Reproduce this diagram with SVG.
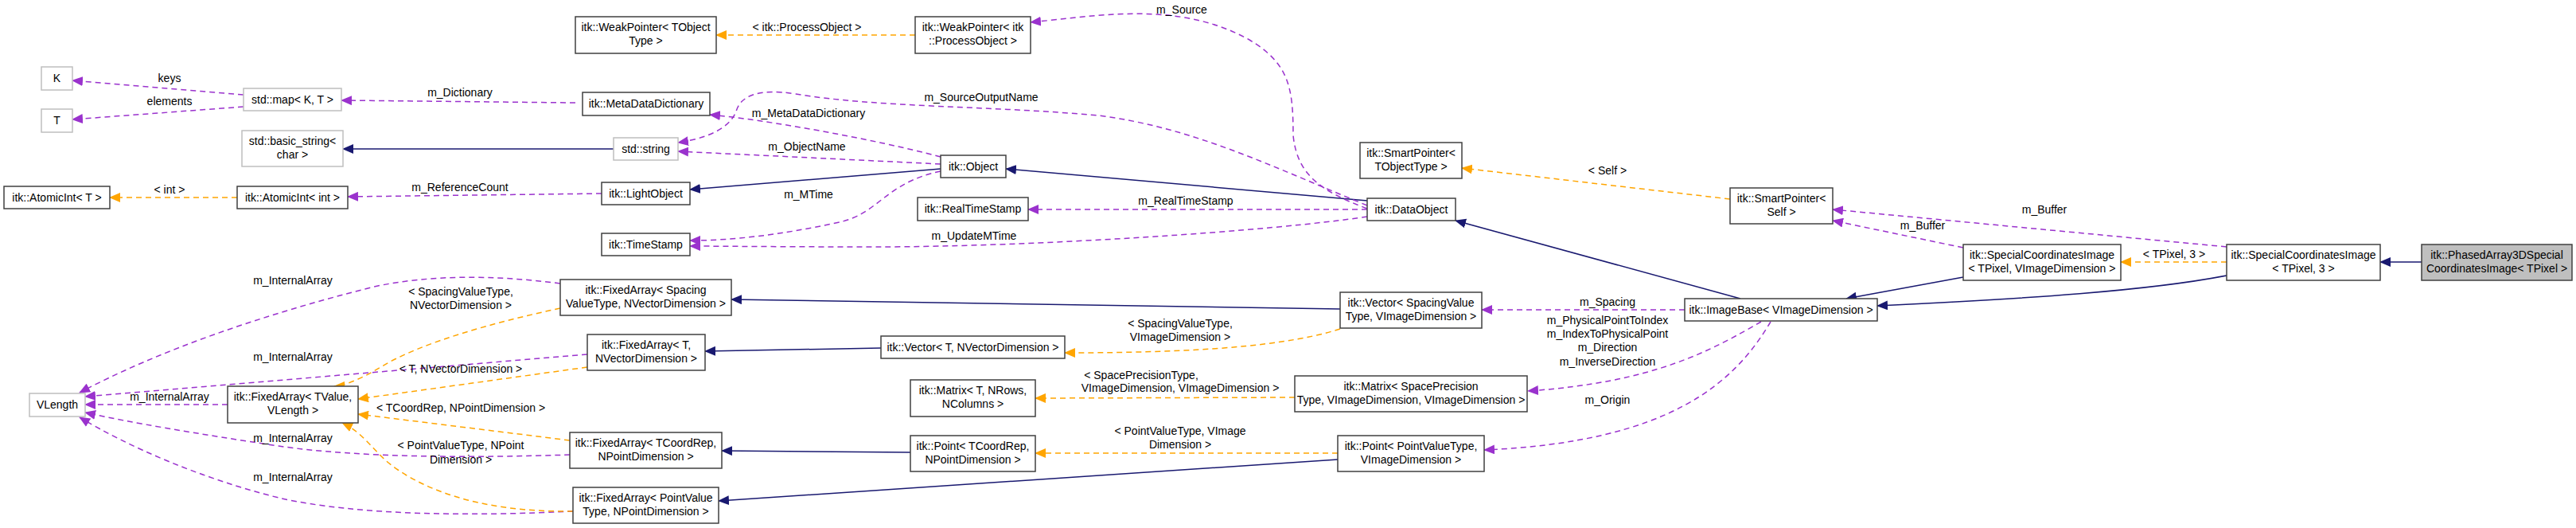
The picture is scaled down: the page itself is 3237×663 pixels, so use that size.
<svg xmlns="http://www.w3.org/2000/svg" width="3237" height="663" viewBox="0 0 3237 663">
<style>
text{font-family:"Liberation Sans Narrow","Liberation Sans",Arial,sans-serif;font-size:14px;fill:#000;text-anchor:middle}
.n rect{fill:#fff;stroke:#404040;stroke-width:1.5}
.g rect{fill:#fff;stroke:#bfbfbf;stroke-width:1.5}
.e{fill:none;stroke-width:1.5}
.s{stroke:#191970}
.p{stroke:#9a32cd;stroke-dasharray:7,5}
.o{stroke:#ffa500;stroke-dasharray:7,5}
</style>
<defs>
<marker id="as" markerWidth="14" markerHeight="12" refX="13" refY="6" orient="auto" markerUnits="userSpaceOnUse"><path d="M0,0L14,6L0,12z" fill="#191970"/></marker>
<marker id="ap" markerWidth="14" markerHeight="12" refX="13" refY="6" orient="auto" markerUnits="userSpaceOnUse"><path d="M0,0L14,6L0,12z" fill="#9a32cd"/></marker>
<marker id="ao" markerWidth="14" markerHeight="12" refX="13" refY="6" orient="auto" markerUnits="userSpaceOnUse"><path d="M0,0L14,6L0,12z" fill="#ffa500"/></marker>
</defs>
<rect width="3237" height="663" fill="#fff"/>
<g id="connectors">
<path class="e p" marker-end="url(#ap)" d="M306,119L91,101"/>
<path class="e p" marker-end="url(#ap)" d="M306,134L91,150"/>
<path class="e p" marker-end="url(#ap)" d="M723,129L429,126"/>
<path class="e s" marker-end="url(#as)" d="M771,187L431,187"/>
<path class="e o" marker-end="url(#ao)" d="M298,248L138,248"/>
<path class="e p" marker-end="url(#ap)" d="M756,243L437,247"/>
<path class="e o" marker-end="url(#ao)" d="M1150,44L900,44"/>
<path class="e p" marker-end="url(#ap)" d="M1182,197C1100,175 960,150 892,144"/>
<path class="e p" marker-end="url(#ap)" d="M1182,206L852,190"/>
<path class="e s" marker-end="url(#as)" d="M1182,212L867,238"/>
<path class="e p" marker-end="url(#ap)" d="M1182,215C1110,230 1105,270 1050,280C980,295 920,302 867,302"/>
<path class="e s" marker-end="url(#as)" d="M1718,252L1264,212"/>
<path class="e p" marker-end="url(#ap)" d="M1718,262C1660,240 1630,220 1625,170C1625,110 1620,80 1570,50C1480,0 1380,20 1295,28"/>
<path class="e p" marker-end="url(#ap)" d="M1718,258C1600,210 1500,160 1380,145C1250,133 1100,135 1000,118C950,110 930,122 925,140C915,165 880,175 852,179"/>
<path class="e p" marker-end="url(#ap)" d="M1718,263L1292,263"/>
<path class="e p" marker-end="url(#ap)" d="M1718,272C1600,290 1300,310 1100,310C980,310 900,309 867,309"/>
<path class="e o" marker-end="url(#ao)" d="M2174,250L1837,211"/>
<path class="e p" marker-end="url(#ap)" d="M2798,310L2303,263"/>
<path class="e p" marker-end="url(#ap)" d="M2467,311L2303,277"/>
<path class="e o" marker-end="url(#ao)" d="M2798,329L2665,329"/>
<path class="e s" marker-end="url(#as)" d="M3043,329L2991,329"/>
<path class="e s" marker-end="url(#as)" d="M2467,348L2320,375"/>
<path class="e s" marker-end="url(#as)" d="M2798,346C2700,365 2550,375 2359,384"/>
<path class="e s" marker-end="url(#as)" d="M2187,375L1829,277"/>
<path class="e p" marker-end="url(#ap)" d="M2117,389L1862,389"/>
<path class="e p" marker-end="url(#ap)" d="M2213,404C2150,440 2080,480 1920,491"/>
<path class="e p" marker-end="url(#ap)" d="M2225,404C2180,480 2100,555 1865,565"/>
<path class="e s" marker-end="url(#as)" d="M1684,388L919,376"/>
<path class="e o" marker-end="url(#ao)" d="M1684,413C1600,440 1450,443 1338,443"/>
<path class="e s" marker-end="url(#as)" d="M1107,437L886,441"/>
<path class="e o" marker-end="url(#ao)" d="M1627,499L1301,500"/>
<path class="e o" marker-end="url(#ao)" d="M1681,569L1301,569"/>
<path class="e s" marker-end="url(#as)" d="M1144,568L907,566"/>
<path class="e s" marker-end="url(#as)" d="M1681,577L903,629"/>
<path class="e p" marker-end="url(#ap)" d="M704,356C620,345 540,345 470,360C330,395 200,440 100,493"/>
<path class="e p" marker-end="url(#ap)" d="M738,445L107,498"/>
<path class="e p" marker-end="url(#ap)" d="M286,508L107,508"/>
<path class="e p" marker-end="url(#ap)" d="M716,571C600,575 450,575 350,560C250,545 160,530 107,518"/>
<path class="e p" marker-end="url(#ap)" d="M720,642C600,648 450,648 350,625C250,600 160,560 100,524"/>
<path class="e o" marker-end="url(#ao)" d="M704,387C620,405 530,430 480,460C450,478 430,485 420,485"/>
<path class="e o" marker-end="url(#ao)" d="M738,461L450,501"/>
<path class="e o" marker-end="url(#ao)" d="M716,553L450,520"/>
<path class="e o" marker-end="url(#ao)" d="M720,642C640,643 560,630 500,590C470,570 460,545 430,531"/>
<text x="213" y="103">keys</text>
<text x="213" y="132">elements</text>
<text x="578" y="121">m_Dictionary</text>
<text x="213" y="243">&lt; int &gt;</text>
<text x="578" y="240">m_ReferenceCount</text>
<text x="1014" y="39">&lt; itk::ProcessObject &gt;</text>
<text x="1485" y="17">m_Source</text>
<text x="1233" y="127">m_SourceOutputName</text>
<text x="1016" y="147">m_MetaDataDictionary</text>
<text x="1014" y="189">m_ObjectName</text>
<text x="1016" y="249">m_MTime</text>
<text x="1490" y="257">m_RealTimeStamp</text>
<text x="1224" y="301">m_UpdateMTime</text>
<text x="2020" y="219">&lt; Self &gt;</text>
<text x="2416" y="288">m_Buffer</text>
<text x="2569" y="268">m_Buffer</text>
<text x="2732" y="324">&lt; TPixel, 3 &gt;</text>
<text x="2020" y="384">m_Spacing</text>
<text x="2020" y="407">m_PhysicalPointToIndex</text>
<text x="2020" y="424">m_IndexToPhysicalPoint</text>
<text x="2020" y="441">m_Direction</text>
<text x="2020" y="459">m_InverseDirection</text>
<text x="2020" y="507">m_Origin</text>
<text x="1483" y="411">&lt; SpacingValueType,</text>
<text x="1483" y="428">VImageDimension &gt;</text>
<text x="1434" y="476">&lt; SpacePrecisionType,</text>
<text x="1483" y="492">VImageDimension, VImageDimension &gt;</text>
<text x="1483" y="546">&lt; PointValueType, VImage</text>
<text x="1483" y="563">Dimension &gt;</text>
<text x="368" y="357">m_InternalArray</text>
<text x="579" y="371">&lt; SpacingValueType,</text>
<text x="579" y="388">NVectorDimension &gt;</text>
<text x="368" y="453">m_InternalArray</text>
<text x="579" y="468">&lt; T, NVectorDimension &gt;</text>
<text x="213" y="503">m_InternalArray</text>
<text x="579" y="517">&lt; TCoordRep, NPointDimension &gt;</text>
<text x="368" y="555">m_InternalArray</text>
<text x="579" y="564">&lt; PointValueType, NPoint</text>
<text x="579" y="582">Dimension &gt;</text>
<text x="368" y="604">m_InternalArray</text>
</g>
<g id="K" class="g"><rect x="52" y="84" width="39" height="29"/><text x="71.5" y="103">K</text></g>
<g id="T" class="g"><rect x="52" y="137" width="39" height="29"/><text x="71.5" y="156">T</text></g>
<g id="stdmap" class="g"><rect x="306" y="111" width="123" height="28"/><text x="367.5" y="130">std::map&lt; K, T &gt;</text></g>
<g id="basicstring" class="g"><rect x="304" y="164" width="127" height="45"/><text x="367.5" y="182">std::basic_string&lt;</text><text x="367.5" y="199">char &gt;</text></g>
<g id="atomicT" class="n"><rect x="5" y="234" width="133" height="28"/><text x="71.5" y="253">itk::AtomicInt&lt; T &gt;</text></g>
<g id="atomicInt" class="n"><rect x="298" y="234" width="139" height="28"/><text x="367.5" y="253">itk::AtomicInt&lt; int &gt;</text></g>
<g id="weakT" class="n"><rect x="723" y="21" width="177" height="46"/><text x="811.5" y="39">itk::WeakPointer&lt; TObject</text><text x="811.5" y="56">Type &gt;</text></g>
<g id="weakPO" class="n"><rect x="1150" y="21" width="145" height="46"/><text x="1222.5" y="39">itk::WeakPointer&lt; itk</text><text x="1222.5" y="56">::ProcessObject &gt;</text></g>
<g id="metadata" class="n"><rect x="732" y="116" width="160" height="29"/><text x="812" y="135">itk::MetaDataDictionary</text></g>
<g id="stdstring" class="g"><rect x="771" y="173" width="81" height="28"/><text x="811.5" y="192">std::string</text></g>
<g id="lightobject" class="n"><rect x="756" y="229" width="111" height="28"/><text x="811.5" y="248">itk::LightObject</text></g>
<g id="timestamp" class="n"><rect x="756" y="293" width="111" height="28"/><text x="811.5" y="312">itk::TimeStamp</text></g>
<g id="object" class="n"><rect x="1182" y="195" width="82" height="28"/><text x="1223" y="214">itk::Object</text></g>
<g id="realtimestamp" class="n"><rect x="1153" y="248" width="139" height="29"/><text x="1222.5" y="267">itk::RealTimeStamp</text></g>
<g id="dataobject" class="n"><rect x="1718" y="249" width="111" height="28"/><text x="1773.5" y="268">itk::DataObject</text></g>
<g id="spTObj" class="n"><rect x="1709" y="179" width="128" height="45"/><text x="1773" y="197">itk::SmartPointer&lt;</text><text x="1773" y="214">TObjectType &gt;</text></g>
<g id="spSelf" class="n"><rect x="2174" y="236" width="129" height="45"/><text x="2238.5" y="254">itk::SmartPointer&lt;</text><text x="2238.5" y="271">Self &gt;</text></g>
<g id="imagebase" class="n"><rect x="2117" y="375" width="242" height="28"/><text x="2238" y="394">itk::ImageBase&lt; VImageDimension &gt;</text></g>
<g id="sciV" class="n"><rect x="2467" y="307" width="198" height="45"/><text x="2566" y="325">itk::SpecialCoordinatesImage</text><text x="2566" y="342">&lt; TPixel, VImageDimension &gt;</text></g>
<g id="sci3" class="n"><rect x="2798" y="307" width="193" height="45"/><text x="2894.5" y="325">itk::SpecialCoordinatesImage</text><text x="2894.5" y="342">&lt; TPixel, 3 &gt;</text></g>
<g id="phased"><rect x="3043" y="307" width="189" height="45" fill="#bfbfbf" stroke="#404040" stroke-width="1.5"/><text x="3137.5" y="325">itk::PhasedArray3DSpecial</text><text x="3137.5" y="342">CoordinatesImage&lt; TPixel &gt;</text></g>
<g id="vecSpacing" class="n"><rect x="1684" y="367" width="178" height="45"/><text x="1773" y="385">itk::Vector&lt; SpacingValue</text><text x="1773" y="402">Type, VImageDimension &gt;</text></g>
<g id="faSpacing" class="n"><rect x="704" y="351" width="215" height="45"/><text x="811.5" y="369">itk::FixedArray&lt; Spacing</text><text x="811.5" y="386">ValueType, NVectorDimension &gt;</text></g>
<g id="faT" class="n"><rect x="738" y="420" width="148" height="45"/><text x="812" y="438">itk::FixedArray&lt; T,</text><text x="812" y="455">NVectorDimension &gt;</text></g>
<g id="vecT" class="n"><rect x="1107" y="422" width="231" height="28"/><text x="1222.5" y="441">itk::Vector&lt; T, NVectorDimension &gt;</text></g>
<g id="matT" class="n"><rect x="1144" y="477" width="157" height="46"/><text x="1222.5" y="495">itk::Matrix&lt; T, NRows,</text><text x="1222.5" y="512">NColumns &gt;</text></g>
<g id="matSP" class="n"><rect x="1627" y="472" width="292" height="45"/><text x="1773" y="490">itk::Matrix&lt; SpacePrecision</text><text x="1773" y="507">Type, VImageDimension, VImageDimension &gt;</text></g>
<g id="faTCoord" class="n"><rect x="716" y="543" width="191" height="45"/><text x="811.5" y="561">itk::FixedArray&lt; TCoordRep,</text><text x="811.5" y="578">NPointDimension &gt;</text></g>
<g id="pointT" class="n"><rect x="1144" y="547" width="157" height="45"/><text x="1222.5" y="565">itk::Point&lt; TCoordRep,</text><text x="1222.5" y="582">NPointDimension &gt;</text></g>
<g id="pointPV" class="n"><rect x="1681" y="547" width="184" height="45"/><text x="1773" y="565">itk::Point&lt; PointValueType,</text><text x="1773" y="582">VImageDimension &gt;</text></g>
<g id="faPV" class="n"><rect x="720" y="612" width="183" height="45"/><text x="811.5" y="630">itk::FixedArray&lt; PointValue</text><text x="811.5" y="647">Type, NPointDimension &gt;</text></g>
<g id="faTValue" class="n"><rect x="286" y="485" width="164" height="46"/><text x="368" y="503">itk::FixedArray&lt; TValue,</text><text x="368" y="520">VLength &gt;</text></g>
<g id="vlength" class="g"><rect x="37" y="494" width="70" height="29"/><text x="72" y="513">VLength</text></g>
</svg>
